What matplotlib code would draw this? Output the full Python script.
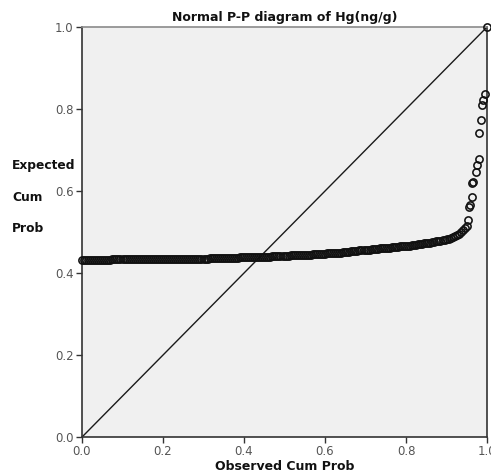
import matplotlib.pyplot as plt

# observed cumulative probability (x) and expected cumulative probability (y)
obs = [0.000, 0.005, 0.010, 0.015, 0.020, 0.025, 0.030, 0.035, 0.040, 0.045,
       0.050, 0.055, 0.060, 0.065, 0.070, 0.075, 0.080, 0.085, 0.090, 0.095,
       0.100, 0.105, 0.110, 0.115, 0.120, 0.125, 0.130, 0.135, 0.140, 0.145,
       0.150, 0.155, 0.160, 0.165, 0.170, 0.175, 0.180, 0.185, 0.190, 0.195,
       0.200, 0.205, 0.210, 0.215, 0.220, 0.225, 0.230, 0.235, 0.240, 0.245,
       0.250, 0.255, 0.260, 0.265, 0.270, 0.275, 0.280, 0.285, 0.290, 0.295,
       0.300, 0.305, 0.310, 0.315, 0.320, 0.325, 0.330, 0.335, 0.340, 0.345,
       0.350, 0.355, 0.360, 0.365, 0.370, 0.375, 0.380, 0.385, 0.390, 0.395,
       0.400, 0.405, 0.410, 0.415, 0.420, 0.425, 0.430, 0.435, 0.440, 0.445,
       0.450, 0.455, 0.460, 0.465, 0.470, 0.475, 0.480, 0.485, 0.490, 0.495,
       0.500, 0.505, 0.510, 0.515, 0.520, 0.525, 0.530, 0.535, 0.540, 0.545,
       0.550, 0.555, 0.560, 0.565, 0.570, 0.575, 0.580, 0.585, 0.590, 0.595,
       0.600, 0.605, 0.610, 0.615, 0.620, 0.625, 0.630, 0.635, 0.640, 0.645,
       0.650, 0.655, 0.660, 0.665, 0.670, 0.675, 0.680, 0.685, 0.690, 0.695,
       0.700, 0.705, 0.710, 0.715, 0.720, 0.725, 0.730, 0.735, 0.740, 0.745,
       0.750, 0.755, 0.760, 0.765, 0.770, 0.775, 0.780, 0.785, 0.790, 0.795,
       0.800, 0.805, 0.810, 0.815, 0.820, 0.825, 0.830, 0.835, 0.840, 0.845,
       0.850, 0.855, 0.860, 0.865, 0.870, 0.875, 0.880, 0.885, 0.890, 0.895,
       0.900, 0.905, 0.910, 0.915, 0.920, 0.925, 0.930, 0.935, 0.940, 0.945,
       0.950, 0.954, 0.956, 0.958, 0.962, 0.964, 0.966, 0.972, 0.976, 0.979,
       0.981, 0.984, 0.987, 0.989, 0.995, 1.000]

exp = [0.431, 0.431, 0.432, 0.432, 0.432, 0.432, 0.432, 0.432, 0.432, 0.432,
       0.432, 0.432, 0.432, 0.432, 0.432, 0.433, 0.433, 0.433, 0.433, 0.433,
       0.433, 0.433, 0.433, 0.433, 0.433, 0.433, 0.433, 0.433, 0.433, 0.433,
       0.433, 0.433, 0.433, 0.433, 0.433, 0.434, 0.434, 0.434, 0.434, 0.434,
       0.434, 0.434, 0.434, 0.434, 0.434, 0.434, 0.434, 0.434, 0.434, 0.434,
       0.434, 0.434, 0.435, 0.435, 0.435, 0.435, 0.435, 0.435, 0.435, 0.435,
       0.435, 0.435, 0.435, 0.436, 0.436, 0.436, 0.436, 0.436, 0.436, 0.436,
       0.436, 0.436, 0.437, 0.437, 0.437, 0.437, 0.437, 0.437, 0.438, 0.438,
       0.438, 0.438, 0.438, 0.438, 0.439, 0.439, 0.439, 0.439, 0.439, 0.440,
       0.440, 0.440, 0.440, 0.440, 0.441, 0.441, 0.441, 0.441, 0.441, 0.442,
       0.442, 0.442, 0.442, 0.443, 0.443, 0.443, 0.443, 0.444, 0.444, 0.444,
       0.444, 0.445, 0.445, 0.445, 0.446, 0.446, 0.446, 0.446, 0.447, 0.447,
       0.447, 0.448, 0.448, 0.448, 0.449, 0.449, 0.450, 0.450, 0.450, 0.451,
       0.451, 0.452, 0.452, 0.453, 0.453, 0.454, 0.454, 0.455, 0.455, 0.456,
       0.456, 0.457, 0.457, 0.458, 0.458, 0.459, 0.459, 0.460, 0.460, 0.461,
       0.461, 0.462, 0.462, 0.463, 0.463, 0.464, 0.464, 0.465, 0.465, 0.466,
       0.466, 0.467, 0.467, 0.468, 0.469, 0.469, 0.470, 0.471, 0.471, 0.472,
       0.473, 0.474, 0.474, 0.475, 0.476, 0.477, 0.478, 0.479, 0.480, 0.481,
       0.483, 0.484, 0.486, 0.488, 0.490, 0.493, 0.496, 0.500, 0.504, 0.509,
       0.514, 0.529, 0.562, 0.566, 0.586, 0.620, 0.623, 0.647, 0.663, 0.678,
       0.741, 0.773, 0.810, 0.822, 0.837, 1.000]

ticks = [0.0, 0.2, 0.4, 0.6, 0.8, 1.0]
tick_labels = ['0.0', '0.2', '0.4', '0.6', '0.8', '1.0']

fig = plt.figure(figsize=(4.91, 4.73), dpi=100)
ax = fig.add_axes([0.167, 0.076, 0.825, 0.867])
ax.set_facecolor('#f0f0f0')

ax.plot([0, 1], [0, 1], color='#1a1a1a', lw=1.0, zorder=2)
ax.plot(obs, exp, linestyle='none', marker='o', markersize=5.2,
        markerfacecolor='none', markeredgecolor='#111111', markeredgewidth=1.15,
        zorder=3, clip_on=False)

ax.set_xlim(0, 1)
ax.set_ylim(0, 1)
ax.set_xticks(ticks)
ax.set_xticklabels(tick_labels)
ax.set_yticks(ticks)
ax.set_yticklabels(tick_labels)
ax.tick_params(direction='out', length=4, width=1, colors='#333333',
               labelcolor='#555555', labelsize=8.5, pad=2)

for side in ['left', 'bottom', 'right']:
    ax.spines[side].set_color('#333333')
    ax.spines[side].set_linewidth(1.2)
ax.spines['top'].set_color('#8a8a8a')
ax.spines['top'].set_linewidth(1.2)

ax.set_title('Normal P-P diagram of Hg(ng/g)', fontsize=9, fontweight='bold',
             color='#111111', pad=4)
ax.set_xlabel('Observed Cum Prob', fontsize=9, fontweight='bold',
              color='#111111', labelpad=1)

for txt, ypix in [('Expected', 165), ('Cum', 197), ('Prob', 228)]:
    fig.text(12 / 491, 1 - ypix / 473, txt, fontsize=8.8, fontweight='bold',
             color='#111111', ha='left', va='center')

fig.savefig('out.png', dpi=100)
